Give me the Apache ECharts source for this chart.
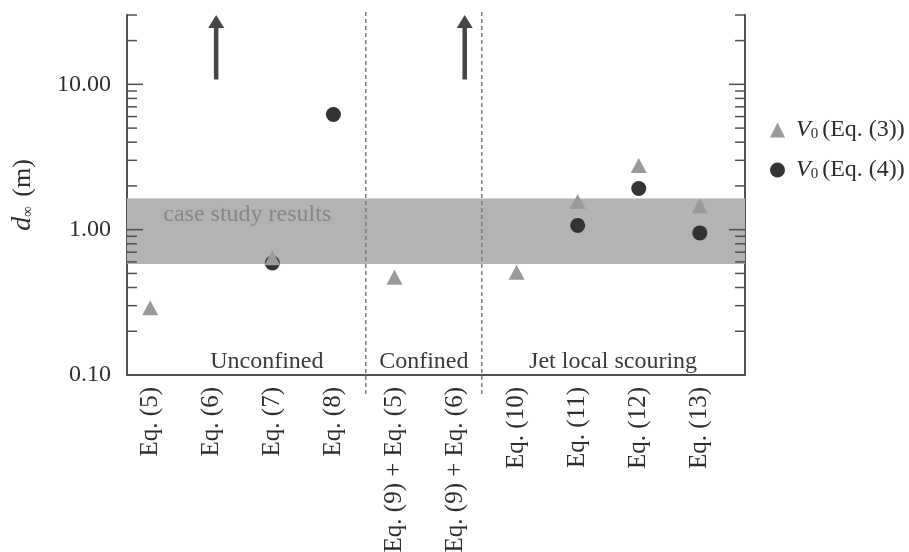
<!DOCTYPE html>
<html>
<head>
<meta charset="utf-8">
<script src="https://cdn.jsdelivr.net/npm/echarts@6/dist/echarts.min.js"></script>
<style>
  html, body { margin: 0; padding: 0; background: #fff; }
  #chart { width: 909px; height: 552px; }
</style>
</head>
<body>
<div id="chart"></div>
<script>
// Equations compared, in plotting order
const categories = ['Eq. (5)', 'Eq. (6)', 'Eq. (7)', 'Eq. (8)', 'Eq. (9) + Eq. (5)',
  'Eq. (9) + Eq. (6)', 'Eq. (10)', 'Eq. (11)', 'Eq. (12)', 'Eq. (13)'];
// Scour depth d∞ (m) with V0 from Eq. (3) and Eq. (4); null = not computed
const depthEq3 = [0.29, null, 0.64, null, 0.47, null, 0.51, 1.56, 2.76, 1.46];
const depthEq4 = [null, null, 0.59, 6.2, null, null, null, 1.07, 1.92, 0.95];
// Results beyond the plotted range, shown as arrows
const arrowX = [1.08, 5.15];
const arrowFrom = [10.8, 10.8];
const arrowTo = [30, 30];
// Range of the case study results (m)
const caseStudyRange = [0.58, 1.64];
// Group separators and group titles
const dividerX = [3.53, 5.43];
const groupNames = ['Unconfined', 'Confined', 'Jet local scouring'];
const groupX = [1.91, 4.48, 7.58];
const groupY = [0.123, 0.123, 0.123];
const bandLabel = 'case study results';
const bandLabelPos = [1.59, 1.27];
// Axis extents and tick values
const xRange = [-0.38, 9.74];
const yRange = [0.1, 30];
const majorTicks = [0.1, 1, 10];
const minorTicks = [0.2, 0.3, 0.4, 0.5, 0.6, 0.7, 0.8, 0.9, 2, 3, 4, 5, 6, 7, 8, 9, 20, 30];

const FONT = '"Liberation Serif", "Times New Roman", serif';
const AXIS_COLOR = '#505050';
const TEXT_COLOR = '#2e2e2e';

const chart = echarts.init(document.getElementById('chart'), null, { renderer: 'canvas' });

const toPoints = arr => arr.map((v, i) => v == null ? null : [i, v]).filter(p => p);

const tickData = majorTicks.map(v => [0, v, 16]).concat(minorTicks.map(v => [0, v, 10]));
const textData = [[bandLabelPos[0], bandLabelPos[1], bandLabel, '#878787']].concat(
  groupNames.map((g, i) => [groupX[i], groupY[i], g, '#3a3a3a']));

chart.setOption({
  animation: false,
  backgroundColor: '#fff',
  grid: { left: 127, right: 164, top: 15, bottom: 177, containLabel: false, outerBoundsMode: 'none' },
  legend: {
    orient: 'vertical',
    left: 765,
    top: 113,
    itemGap: 16,
    itemWidth: 15,
    itemHeight: 15,
    data: ['V0 (Eq. (3))', 'V0 (Eq. (4))'],
    formatter: name => name.replace('V0 ', '{v|V}{sub|0}'),
    textStyle: {
      fontFamily: FONT, fontSize: 24, color: TEXT_COLOR,
      rich: {
        v: { fontFamily: FONT, fontSize: 24, fontStyle: 'italic', color: TEXT_COLOR, padding: [0, 0, 0, 6] },
        sub: { fontFamily: FONT, fontSize: 15, color: TEXT_COLOR, padding: [8, 4, 0, 0] }
      }
    }
  },
  xAxis: {
    type: 'value',
    min: xRange[0],
    max: xRange[1],
    splitLine: { show: false },
    axisTick: { show: false },
    axisLine: { show: true, onZero: false, lineStyle: { color: AXIS_COLOR, width: 2 } },
    axisLabel: {
      customValues: categories.map((c, i) => i),
      formatter: v => categories[Math.round(v)] || '',
      rotate: 90,
      margin: 12,
      fontFamily: FONT,
      fontSize: 25,
      color: TEXT_COLOR
    }
  },
  yAxis: [
    {
      type: 'log',
      logBase: 10,
      min: yRange[0],
      max: yRange[1],
      position: 'left',
      name: '{i|d}{s|∞} (m)',
      nameLocation: 'middle',
      nameRotate: 90,
      nameGap: 90,
      nameTextStyle: {
        fontFamily: FONT, fontSize: 26, color: TEXT_COLOR,
        rich: {
          i: { fontFamily: FONT, fontSize: 28, fontStyle: 'italic', color: TEXT_COLOR },
          s: { fontFamily: FONT, fontSize: 15, color: TEXT_COLOR, padding: [10, 3, 0, 0] }
        }
      },
      splitLine: { show: false },
      axisTick: { show: false },
      axisLine: { show: true, onZero: false, lineStyle: { color: AXIS_COLOR, width: 2 } },
      axisLabel: {
        margin: 16,
        fontFamily: FONT,
        fontSize: 24,
        color: TEXT_COLOR,
        formatter: v => {
          const l = Math.log10(v);
          return Math.abs(l - Math.round(l)) < 1e-6 ? v.toFixed(2) : '';
        }
      }
    },
    {
      type: 'log',
      logBase: 10,
      min: yRange[0],
      max: yRange[1],
      position: 'right',
      splitLine: { show: false },
      axisTick: { show: false },
      axisLabel: { show: false },
      axisLine: { show: true, onZero: false, lineStyle: { color: AXIS_COLOR, width: 2 } }
    }
  ],
  series: [
    {
      // shaded range of the case study results
      name: 'band',
      type: 'scatter',
      data: [],
      z: 1,
      silent: true,
      markArea: {
        silent: true,
        itemStyle: { color: '#b3b3b5' },
        label: { show: false },
        data: [[{ yAxis: caseStudyRange[0] }, { yAxis: caseStudyRange[1] }]]
      }
    },
    {
      // band caption and group titles
      type: 'custom',
      z: 2,
      silent: true,
      data: textData,
      renderItem: (params, api) => {
        const item = textData[params.dataIndex];
        const p = api.coord([api.value(0), api.value(1)]);
        return {
          type: 'text',
          x: p[0], y: p[1],
          style: {
            text: item[2],
            fill: item[3],
            font: '24px ' + FONT,
            align: 'center',
            verticalAlign: 'middle'
          }
        };
      }
    },
    {
      // dashed group separators
      type: 'custom',
      z: 2,
      silent: true,
      clip: false,
      data: dividerX.map(x => [x, yRange[0]]),
      renderItem: (params, api) => {
        const cs = params.coordSys;
        const x = api.coord([api.value(0), api.value(1)])[0];
        return {
          type: 'line',
          shape: { x1: x, y1: cs.y - 3, x2: x, y2: cs.y + cs.height + 20 },
          style: { stroke: '#7a7a7a', lineWidth: 1.5, lineDash: [4, 3] }
        };
      }
    },
    {
      // inward ticks on both vertical axes
      type: 'custom',
      z: 3,
      silent: true,
      clip: false,
      data: tickData,
      renderItem: (params, api) => {
        const cs = params.coordSys;
        const y = api.coord([api.value(0), api.value(1)])[1];
        const len = api.value(2);
        const st = { stroke: AXIS_COLOR, lineWidth: 1.5 };
        return {
          type: 'group',
          children: [
            { type: 'line', shape: { x1: cs.x, y1: y, x2: cs.x + len, y2: y }, style: st },
            { type: 'line', shape: { x1: cs.x + cs.width - len, y1: y, x2: cs.x + cs.width, y2: y }, style: st }
          ]
        };
      }
    },
    {
      // results above the plotted range
      type: 'custom',
      z: 4,
      silent: true,
      clip: false,
      data: arrowX.map((x, i) => [x, arrowFrom[i], arrowTo[i]]),
      renderItem: (params, api) => {
        const base = api.coord([api.value(0), api.value(1)]);
        const tip = api.coord([api.value(0), api.value(2)]);
        const x = base[0];
        const color = '#454545';
        return {
          type: 'group',
          children: [
            { type: 'line', shape: { x1: x, y1: base[1], x2: x, y2: tip[1] + 11 },
              style: { stroke: color, lineWidth: 4.5 } },
            { type: 'polygon', shape: { points: [[x, tip[1]], [x - 8, tip[1] + 13], [x + 8, tip[1] + 13]] },
              style: { fill: color } }
          ]
        };
      }
    },
    {
      name: 'V0 (Eq. (4))',
      type: 'scatter',
      z: 5,
      symbol: 'circle',
      symbolSize: 15,
      itemStyle: { color: '#333333', opacity: 1 },
      data: toPoints(depthEq4)
    },
    {
      name: 'V0 (Eq. (3))',
      type: 'scatter',
      z: 6,
      symbol: 'triangle',
      symbolSize: [16, 15],
      itemStyle: { color: '#9a9a9a', opacity: 1 },
      data: toPoints(depthEq3)
    }
  ]
});
</script>
</body>
</html>
